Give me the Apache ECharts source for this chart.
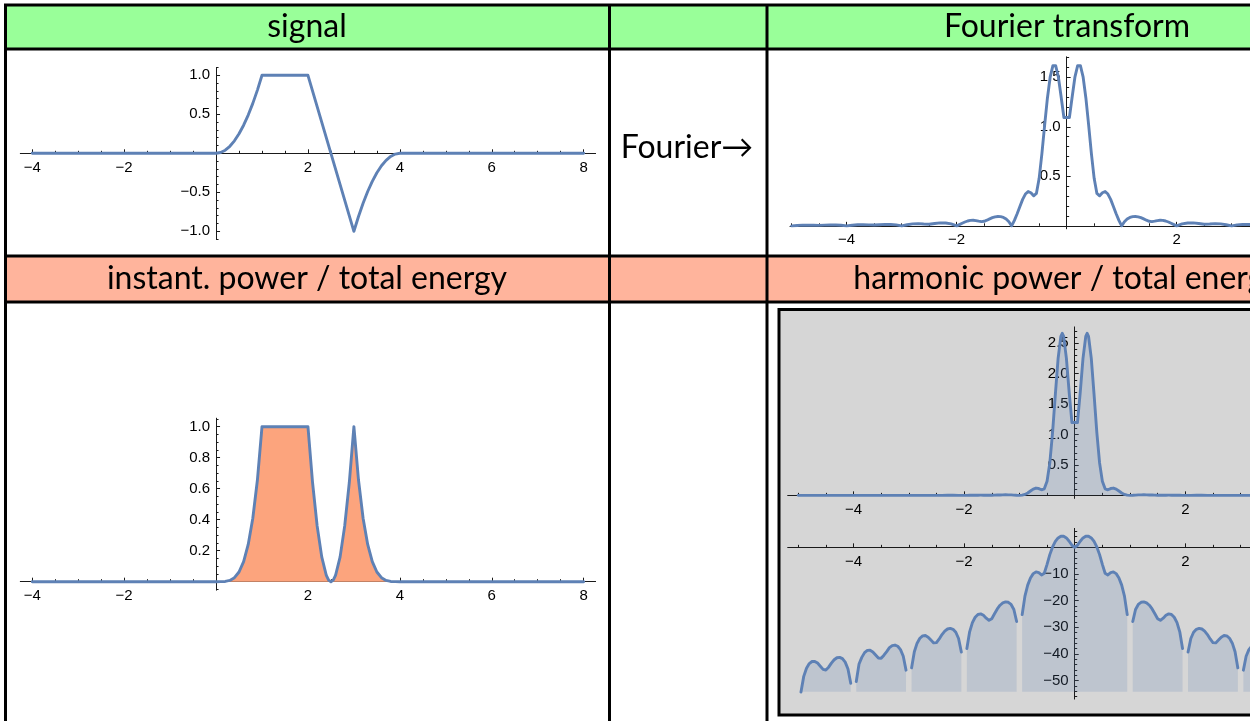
<!DOCTYPE html>
<html>
<head>
<meta charset="utf-8">
<title>signal, power and spectrum</title>
<script src="https://cdn.jsdelivr.net/npm/echarts@6.0.0/dist/echarts.min.js"></script>
<style>
  html, body { margin: 0; padding: 0; background: #ffffff; }
  #chart { width: 1250px; height: 721px; }
</style>
</head>
<body>
<div id="chart"></div>
<script>
// ---------- signal s(t) ----------
const signalTime  = [-4, 0, 0.1, 0.2, 0.3, 0.4, 0.5, 0.6, 0.7, 0.8, 0.9, 1, 2, 3,
                     3.1, 3.2, 3.3, 3.4, 3.5, 3.6, 3.7, 3.8, 3.9, 4, 8];
const signalValue = [0, 0, 0.01, 0.04, 0.09, 0.16, 0.25, 0.36, 0.49, 0.64, 0.81, 1, 1, -1,
                     -0.81, -0.64, -0.49, -0.36, -0.25, -0.16, -0.09, -0.04, -0.01, 0, 0];

// ---------- instantaneous power / total energy ----------
const powerTime  = [-4, 0, 0.1, 0.2, 0.3, 0.4, 0.5, 0.6, 0.7, 0.8, 0.9, 1, 2,
                    2.1, 2.2, 2.3, 2.4, 2.45, 2.5, 2.55, 2.6, 2.7, 2.8, 2.9, 3,
                    3.1, 3.2, 3.3, 3.4, 3.5, 3.6, 3.7, 3.8, 3.9, 4, 8];
const powerValue = [0, 0, 0.0001, 0.0016, 0.0081, 0.0256, 0.0625, 0.1296, 0.2401, 0.4096, 0.6561, 1, 1,
                    0.64, 0.36, 0.16, 0.04, 0.01, 0, 0.01, 0.04, 0.16, 0.36, 0.64, 1,
                    0.6561, 0.4096, 0.2401, 0.1296, 0.0625, 0.0256, 0.0081, 0.0016, 0.0001, 0, 0];

// ---------- spectrum, positive frequencies (the negative side is its mirror image) ----------
const freqLin = [0.05, 0.1, 0.15, 0.2, 0.225, 0.25, 0.3, 0.35, 0.4, 0.45, 0.5, 0.55, 0.6, 0.65, 0.7, 0.75, 0.8, 0.85, 0.9, 0.95, 1,
                 1.05, 1.1, 1.15, 1.2, 1.25, 1.3, 1.35, 1.4, 1.45, 1.5, 1.55, 1.6, 1.65, 1.7, 1.75, 1.8, 1.85, 1.9, 1.95, 2,
                 2.1, 2.2, 2.3, 2.4, 2.5, 2.6, 2.7, 2.8, 2.9, 3,
                 3.1, 3.2, 3.3, 3.4, 3.5, 3.6, 3.7, 3.8, 3.9, 4,
                 4.1, 4.2, 4.3, 4.4, 4.5, 4.6, 4.7, 4.8, 4.9, 5];
const fourierMag = [1.094, 1.301, 1.501, 1.617, 1.632, 1.617, 1.501, 1.289, 1.017, 0.730, 0.480, 0.327, 0.303, 0.334, 0.346, 0.321, 0.267, 0.196, 0.122, 0.055, 0,
                    0.0407, 0.0682, 0.0849, 0.0932, 0.0947, 0.0908, 0.0822, 0.0700, 0.0567, 0.0460, 0.0428, 0.0470, 0.0531, 0.0565, 0.0552, 0.0489, 0.0387, 0.0261, 0.0127, 0,
                    0.0195, 0.0291, 0.0295, 0.0231, 0.0163, 0.0182, 0.0222, 0.0198, 0.0110, 0,
                    0.0091, 0.0140, 0.0144, 0.0114, 0.0083, 0.0096, 0.0118, 0.0106, 0.0060, 0,
                    0.0052, 0.0082, 0.0085, 0.0068, 0.0050, 0.0059, 0.0073, 0.0066, 0.0038, 0];
const harmonicPower = [1.197, 1.694, 2.253, 2.615, 2.665, 2.616, 2.252, 1.660, 1.034, 0.534, 0.231, 0.107, 0.092, 0.112, 0.120, 0.103, 0.071, 0.038, 0.015, 0.003, 0,
                       0.0017, 0.0047, 0.0072, 0.0087, 0.0090, 0.0082, 0.0068, 0.0049, 0.0032, 0.0021, 0.0018, 0.0022, 0.0028, 0.0032, 0.0030, 0.0024, 0.0015, 0.0007, 0.0002, 0,
                       0.0004, 0.0008, 0.0009, 0.0005, 0.0003, 0.0003, 0.0005, 0.0004, 0.0001, 0,
                       0.0001, 0.0002, 0.0002, 0.0001, 0.0001, 0.0001, 0.0001, 0.0001, 0, 0,
                       0, 0.0001, 0.0001, 0, 0, 0, 0.0001, 0, 0, 0];

// harmonic power in dB; null where the spectrum has a zero
const freqDb = [0, 0.05, 0.1, 0.15, 0.2, 0.225, 0.25, 0.3, 0.35, 0.4, 0.45, 0.5, 0.55, 0.6, 0.65, 0.7, 0.75, 0.8, 0.85, 0.9, 0.95, 1,
                1.05, 1.1, 1.15, 1.2, 1.25, 1.3, 1.35, 1.4, 1.45, 1.5, 1.55, 1.6, 1.65, 1.7, 1.75, 1.8, 1.85, 1.9, 1.95, 2,
                2.05, 2.1, 2.15, 2.2, 2.25, 2.3, 2.35, 2.4, 2.45, 2.5, 2.55, 2.6, 2.65, 2.7, 2.75, 2.8, 2.85, 2.9, 2.95, 3,
                3.05, 3.1, 3.15, 3.2, 3.25, 3.3, 3.35, 3.4, 3.45, 3.5, 3.55, 3.6, 3.65, 3.7, 3.75, 3.8, 3.85, 3.9, 3.95, 4,
                4.05, 4.1, 4.15, 4.2, 4.25, 4.3, 4.35, 4.4, 4.45, 4.5, 4.55, 4.6, 4.65, 4.7, 4.75, 4.8, 4.85, 4.9, 4.95, 5];
const harmonicDb = [0, 0.78, 2.29, 3.53, 4.17, 4.26, 4.18, 3.53, 2.20, 0.14, -2.73, -6.37, -9.71, -10.37, -9.52, -9.22, -9.86, -11.48, -14.16, -18.28, -25.23, null,
                    -27.81, -23.32, -21.42, -20.61, -20.47, -20.84, -21.71, -23.09, -24.93, -26.74, -27.36, -26.55, -25.49, -24.96, -25.17, -26.21, -28.25, -31.68, -37.94, null,
                    -39.23, -34.19, -31.85, -30.73, -30.37, -30.61, -31.41, -32.71, -34.36, -35.73, -35.83, -34.78, -33.67, -33.08, -33.18, -34.08, -35.93, -39.16, -45.20, null,
                    -46.06, -40.84, -38.34, -37.08, -36.64, -36.83, -37.59, -39.09, -40.44, -41.61, -41.48, -40.35, -39.21, -38.59, -38.65, -39.48, -41.25, -43.76, -50.31, null,
                    -50.96, -45.63, -43.05, -41.73, -41.24, -41.40, -42.15, -43.40, -44.93, -45.99, -45.74, -44.55, -43.40, -42.77, -42.80, -43.59, -45.31, -48.38, -54.25, null];

// ---------- tick labels ----------
const timeTicks     = [-4, -2, 2, 4, 6, 8];
const signalTicks   = [-1, -0.5, 0.5, 1];
const powerTicks    = [0.2, 0.4, 0.6, 0.8, 1];
const freqTicks     = [-4, -2, 2, 4];
const magTicks      = [0.5, 1, 1.5];
const harmonicTicks = [0.5, 1, 1.5, 2, 2.5];
const dbTicks       = [-50, -40, -30, -20, -10];

// ---------- helpers ----------
const LINE = '#5E81B5';
const AXIS = '#1a1a1a';
const TICK_FONT = 'Liberation Sans';
const TICK_SIZE = 15;

function pairs(xs, ys) {
  return xs.map((x, i) => [x, ys[i] === null ? '-' : ys[i]]);
}
// real signal -> |spectrum| is even: reuse the positive side for negative frequencies
function mirrored(xs, ys) {
  const left = [];
  for (let i = xs.length - 1; i >= 0; i--) {
    if (xs[i] !== 0) left.push([-xs[i], ys[i] === null ? '-' : ys[i]]);
  }
  return left.concat(pairs(xs, ys));
}
function steps(a, b, step) {
  const out = [];
  const n = Math.round((b - a) / step);
  for (let i = 0; i <= n; i++) out.push(Math.round((a + i * step) * 1000) / 1000);
  return out;
}
function fmt(dec) {
  return v => Number(v).toFixed(dec).replace('-', '\u2212');
}

const grids = [], xAxes = [], yAxes = [];

// Each plot: one grid carrying the axis lines, labels and long ticks, and a twin
// grid on the same rectangle with the short ticks. Axes cross at the origin.
function addPlot(rect, xs, ys) {
  const g = grids.length;
  const zeroY = rect.top + rect.height * ys.max / (ys.max - ys.min);
  const zeroX = rect.left + rect.width * (-xs.min) / (xs.max - xs.min);
  const xOffset = -(rect.top + rect.height - zeroY);
  const yOffset = -(zeroX - rect.left);
  grids.push(Object.assign({ outerBoundsMode: 'none', containLabel: false }, rect));
  grids.push(Object.assign({ outerBoundsMode: 'none', containLabel: false }, rect));
  const common = { type: 'value', splitLine: { show: false }, minorTick: { show: false } };
  const labelStyle = { color: '#000', fontFamily: TICK_FONT, fontSize: TICK_SIZE };
  xAxes.push(Object.assign({}, common, {
    gridIndex: g, min: xs.min, max: xs.max, position: 'bottom', offset: xOffset,
    axisLine: { show: true, onZero: false, lineStyle: { color: AXIS, width: 1 } },
    axisTick: { show: true, inside: true, length: 4, customValues: xs.labels, lineStyle: { color: AXIS, width: 1 } },
    axisLabel: Object.assign({ show: true, customValues: xs.labels, formatter: fmt(xs.dec), margin: 7 }, labelStyle)
  }));
  xAxes.push(Object.assign({}, common, {
    gridIndex: g + 1, min: xs.min, max: xs.max, position: 'bottom', offset: xOffset,
    axisLine: { show: false, onZero: false },
    axisTick: { show: true, inside: true, length: 2.5, customValues: xs.minor, lineStyle: { color: AXIS, width: 1 } },
    axisLabel: { show: false }
  }));
  yAxes.push(Object.assign({}, common, {
    gridIndex: g, min: ys.min, max: ys.max, position: 'left', offset: yOffset,
    axisLine: { show: true, onZero: false, lineStyle: { color: AXIS, width: 1 } },
    axisTick: { show: true, inside: true, length: 4, customValues: ys.labels, lineStyle: { color: AXIS, width: 1 } },
    axisLabel: Object.assign({ show: true, customValues: ys.labels, formatter: fmt(ys.dec), margin: 6 }, labelStyle)
  }));
  yAxes.push(Object.assign({}, common, {
    gridIndex: g + 1, min: ys.min, max: ys.max, position: 'left', offset: yOffset,
    axisLine: { show: false, onZero: false },
    axisTick: { show: true, inside: true, length: 2.5, customValues: ys.minor, lineStyle: { color: AXIS, width: 1 } },
    axisLabel: { show: false }
  }));
  return g;
}

const gSignal = addPlot({ left: 20.3, top: 67.5, width: 575.3, height: 171.6 },
  { min: -4.26, max: 8.26, labels: timeTicks, minor: steps(-4, 8, 0.5), dec: 0 },
  { min: -1.1, max: 1.1, labels: signalTicks, minor: steps(-1.1, 1.1, 0.1), dec: 1 });

const gPower = addPlot({ left: 20.3, top: 418.2, width: 575.3, height: 172 },
  { min: -4.26, max: 8.26, labels: timeTicks, minor: steps(-4, 8, 0.5), dec: 0 },
  { min: -0.055, max: 1.055, labels: powerTicks, minor: steps(-0.05, 1.05, 0.05), dec: 1 });

const gFourier = addPlot({ left: 790, top: 56.8, width: 553.3, height: 172 },
  { min: -5.03, max: 5.03, labels: freqTicks, minor: steps(-5, 5, 0.5), dec: 0 },
  { min: -0.03, max: 1.707, labels: magTicks, minor: steps(0, 1.7, 0.1), dec: 1 });

const gHarm = addPlot({ left: 787.7, top: 326.9, width: 574, height: 171.5 },
  { min: -5.19, max: 5.19, labels: freqTicks, minor: steps(-5, 5, 0.5), dec: 0 },
  { min: -0.05, max: 2.77, labels: harmonicTicks, minor: steps(0, 2.7, 0.1), dec: 1 });

const gDb = addPlot({ left: 787.7, top: 528.4, width: 574, height: 170.7 },
  { min: -5.19, max: 5.19, labels: freqTicks, minor: steps(-5, 5, 0.5), dec: 0 },
  { min: -56.9, max: 7.1, labels: dbTicks, minor: steps(-56, 6, 2), dec: 0 });

function lineSeries(g, data, extra) {
  return Object.assign({
    type: 'line', xAxisIndex: g, yAxisIndex: g, data: data,
    showSymbol: false, symbol: 'none', silent: true, animation: false, connectNulls: false,
    lineStyle: { color: LINE, width: 2.9, join: 'round', cap: 'round' }, z: 3
  }, extra || {});
}

const PANEL_FILL = 'rgba(94,129,181,0.2)';

const series = [
  lineSeries(gSignal, pairs(signalTime, signalValue)),
  lineSeries(gPower, pairs(powerTime, powerValue), {
    areaStyle: { color: '#FCA47D', opacity: 1, origin: 'auto' }
  }),
  lineSeries(gFourier, mirrored(freqLin, fourierMag)),
  lineSeries(gHarm, mirrored(freqLin, harmonicPower), {
    areaStyle: { color: PANEL_FILL, opacity: 1, origin: 'auto' }
  }),
  lineSeries(gDb, mirrored(freqDb, harmonicDb), {
    areaStyle: { color: PANEL_FILL, opacity: 1, origin: -54.1 }
  })
];

// ---------- table ----------
const HEAD_FONT = 'Lato';
function hline(y, x1, x2) {
  return { type: 'line', z: 100, shape: { x1: x1, y1: y, x2: x2, y2: y }, style: { stroke: '#000', lineWidth: 3 } };
}
function vline(x, y1, y2) {
  return { type: 'line', z: 100, shape: { x1: x, y1: y1, x2: x, y2: y2 }, style: { stroke: '#000', lineWidth: 3 } };
}
function label(text, x, y) {
  return { type: 'text', z: 101, style: { text: text, x: x, y: y, fill: '#000', font: '32px ' + HEAD_FONT,
           align: 'center', verticalAlign: 'middle', textAlign: 'center', textVerticalAlign: 'middle' } };
}

const graphic = [
  { type: 'rect', z: -10, shape: { x: 5, y: 5, width: 1260, height: 44 }, style: { fill: '#99FF99' } },
  { type: 'rect', z: -10, shape: { x: 5, y: 256, width: 1260, height: 46 }, style: { fill: '#FFB49C' } },
  { type: 'rect', z: -9, shape: { x: 779, y: 309.5, width: 520, height: 405.5 }, style: { fill: '#D6D6D6', stroke: '#000', lineWidth: 3 } },
  hline(5, 4, 1260), hline(49, 4, 1260), hline(256, 4, 1260), hline(302, 4, 1260),
  vline(5.5, 4, 725), vline(609.5, 4, 725), vline(767, 4, 725),
  label('signal', 307, 27),
  label('Fourier transform', 1067, 27),
  label('instant. power / total energy', 307, 279),
  label('harmonic power / total energy', 1067, 279),
  label('Fourier\u2192', 687, 148)
];

const chart = echarts.init(document.getElementById('chart'), null, { renderer: 'canvas' });
chart.setOption({
  animation: false,
  backgroundColor: '#ffffff',
  grid: grids,
  xAxis: xAxes,
  yAxis: yAxes,
  series: series,
  graphic: { elements: graphic }
});
</script>
</body>
</html>
